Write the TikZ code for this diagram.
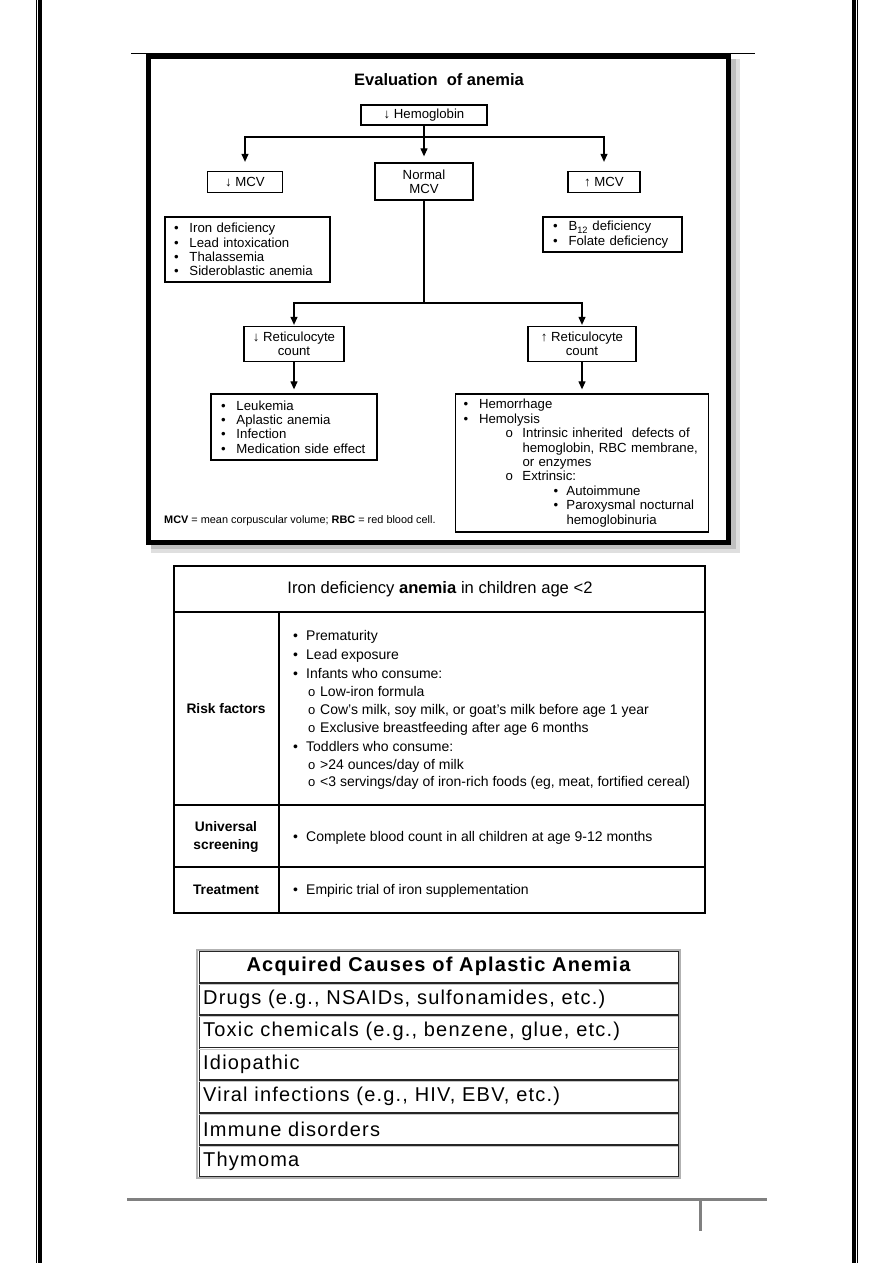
\documentclass[tikz,border=0pt]{standalone}
\usepackage{fontspec}
\setmainfont{Liberation Sans}
\newfontfamily\widesans[LetterSpace=6]{Liberation Sans}
\usetikzlibrary{arrows.meta}
\newcommand{\fsz}[2]{\fontsize{#1}{#2}\selectfont}
\newcommand{\bul}[1]{\mbox{\makebox[15.5pt][l]{\textbullet}#1}}
\newcommand{\tbul}[1]{\mbox{\makebox[13pt][l]{\textbullet}#1}}
\newcommand{\tsub}[1]{\mbox{\hspace*{15pt}\makebox[12pt][l]{\fsz{13}{13}o}#1}}

\tikzset{
  box/.style={draw, line width=1.3pt, inner sep=0pt, align=center, font=\fsz{13.2}{14.4}},
  listbox/.style={box, align=left},
  ln/.style={line width=1.2pt},
  arr/.style={ln, -{Triangle[length=8pt,width=7pt]}},
  txt/.style={inner sep=0pt},
}

\begin{document}
\begin{tikzpicture}[x=1pt,y=-1pt]
   \useasboundingbox (0,0) rectangle (893,1263);
   % page border
   \draw[line width=1.2pt] (36.5,0) -- (36.5,1263);
   \draw[line width=4pt] (40,0) -- (40,1263);
   \draw[line width=4pt] (854,0) -- (854,1263);
   \draw[line width=1.2pt] (857.5,0) -- (857.5,1263);
   \draw[line width=0.8pt] (131,53) -- (755,53);

   % evaluation of anemia
   \fill[gray!25] (151,59) rectangle (740,553);
   \fill[gray!50] (151,59) rectangle (736,549);
   \filldraw[fill=white, line width=5pt] (148.5,56.5) rectangle (728.5,542.5);
   \node[txt, font=\bfseries\fsz{16.5}{18}] (title) at (439,80) {Evaluation\ \ of anemia};

   \node[box, minimum width=126pt, minimum height=20pt] (hgb) at (424,115) {↓ Hemoglobin};
   \node[box, minimum width=75pt, minimum height=21pt] (lowmcv) at (245,182) {↓ MCV};
   \node[box, minimum width=98pt, minimum height=37pt] (normal) at (424,181.5) {Normal\\MCV};
   \node[box, minimum width=72pt, minimum height=21pt] (highmcv) at (604,182) {↑ MCV};
   \node[listbox, minimum height=65pt, text width=147pt, inner xsep=9pt] (irondef) at (247.5,249.5)
      {\bul{Iron deficiency}\\ \bul{Lead intoxication}\\ \bul{Thalassemia}\\ \bul{Sideroblastic anemia}};
   \node[listbox, minimum height=35pt, text width=119pt, inner xsep=10pt] (b12) at (612.5,234.5)
      {\bul{B\textsubscript{12} deficiency}\\ \bul{Folate deficiency}};

   \node[box, minimum width=100pt, minimum height=35pt] (lowret) at (294,344) {↓ Reticulocyte\\count};
   \node[box, minimum width=108pt, minimum height=35pt] (highret) at (582,344) {↑ Reticulocyte\\count};
   \node[listbox, minimum height=66pt, text width=146pt, inner xsep=10pt] (leuk) at (294,427)
      {\bul{Leukemia}\\ \bul{Aplastic anemia}\\ \bul{Infection}\\ \bul{Medication side effect}};
   \node[listbox, minimum height=138pt, text width=237pt, inner xsep=8pt] (hemo) at (582,463)
      {\bul{Hemorrhage}\\
       \bul{Hemolysis}\\
       \mbox{\hspace*{42pt}\makebox[17pt][l]{o}Intrinsic inherited\ \ defects of}\\
       \mbox{\hspace*{59pt}hemoglobin, RBC membrane,}\\
       \mbox{\hspace*{59pt}or enzymes}\\
       \mbox{\hspace*{42pt}\makebox[17pt][l]{o}Extrinsic:}\\
       \mbox{\hspace*{90pt}\makebox[13pt][l]{\textbullet}Autoimmune}\\
       \mbox{\hspace*{90pt}\makebox[13pt][l]{\textbullet}Paroxysmal nocturnal}\\
       \mbox{\hspace*{103pt}hemoglobinuria}};

   \coordinate (split) at (424,137);
   \draw[ln] (hgb.south) -- (split);
   \draw[arr, shorten >=9pt] (split) -| (lowmcv.north);
   \draw[arr, shorten >=6pt] (split) -- (normal.north);
   \draw[arr, shorten >=9pt] (split) -| (highmcv.north);
   \coordinate (fork) at (424,303);
   \draw[ln] (normal.south) -- (fork);
   \draw[arr, shorten >=1pt] (fork) -| (lowret.north);
   \draw[arr, shorten >=1pt] (fork) -| (highret.north);
   \draw[arr, shorten >=4pt] (lowret.south) -- (lowret.south |- leuk.north);
   \draw[arr, shorten >=4pt] (highret.south) -- (highret.south |- hemo.north);

   \node[txt, anchor=west, font=\fsz{10.9}{12}] (abbr) at (164,521)
      {\textbf{MCV} = mean corpuscular volume; \textbf{RBC} = red blood cell.};

   % iron deficiency table
   \draw[line width=2pt] (174,566) rectangle (705,913);
   \draw[line width=2pt] (174,612) -- (705,612);
   \draw[line width=2pt] (174,805) -- (705,805);
   \draw[line width=2pt] (174,867) -- (705,867);
   \draw[line width=2pt] (279,612) -- (279,913);
   \node[txt, font=\fsz{16.6}{19}] (idahead) at (440,589) {Iron deficiency \textbf{anemia} in children age <2};
   \node[txt, font=\bfseries\fsz{13.8}{17}] (risk) at (226,709) {Risk factors};
   \node[txt, font=\bfseries\fsz{13.8}{18.3}, align=center] (screen) at (226,837) {Universal\\screening};
   \node[txt, font=\bfseries\fsz{13.8}{17}] (treat) at (226,890) {Treatment};
   \node[txt, anchor=west, align=left, font=\fsz{14}{17.8}] (risklist) at (293,710)
      {\tbul{Prematurity}\\[1.5pt]
       \tbul{Lead exposure}\\[1.2pt]
       \tbul{Infants who consume:}\\
       \tsub{Low-iron formula}\\
       \tsub{Cow's milk, soy milk, or goat's milk before age 1 year}\\
       \tsub{Exclusive breastfeeding after age 6 months}\\[1.5pt]
       \tbul{Toddlers who consume:}\\
       \tsub{>24 ounces/day of milk}\\
       \tsub{<3 servings/day of iron-rich foods (eg, meat, fortified cereal)}};
   \node[txt, anchor=west, font=\fsz{14}{17.8}] (screenlist) at (293,838)
      {\tbul{Complete blood count in all children at age 9-12 months}};
   \node[txt, anchor=west, font=\fsz{14}{17.8}] (treatlist) at (293,891)
      {\tbul{Empiric trial of iron supplementation}};

   % aplastic anemia table
   \draw[gray!60, line width=2pt] (197,949.5) rectangle (680,1178);
   \draw[black!85, line width=0.9pt] (199,951.5) rectangle (678,1176);
   \foreach \y in {983,1015,1047.5,1080,1113,1145} {
      \draw[black!85, line width=1.1pt] (199,\y) -- (678,\y);
      \draw[gray!45, line width=1pt] (199,\y+1.6) -- (678,\y+1.6);
   }
   \node[txt, font=\widesans\bfseries\fsz{20}{22}] (aahead) at (438.5,966) {Acquired Causes of Aplastic Anemia};
   \foreach \cause [count=\i] in {{Drugs (e.g., NSAIDs, sulfonamides, etc.)},
         {Toxic chemicals (e.g., benzene, glue, etc.)}, {Idiopathic},
         {Viral infections (e.g., HIV, EBV, etc.)}, {Immune disorders}, {Thymoma}}
      \node[txt, anchor=west, font=\widesans\fsz{20}{22}] (cause\i) at (203,966.5+\i*32.5) {\cause};

   % footer
   \draw[gray, line width=3pt] (127,1199) -- (767,1199);
   \draw[gray, line width=3pt] (700,1199) -- (700,1231);
\end{tikzpicture}
\end{document}
